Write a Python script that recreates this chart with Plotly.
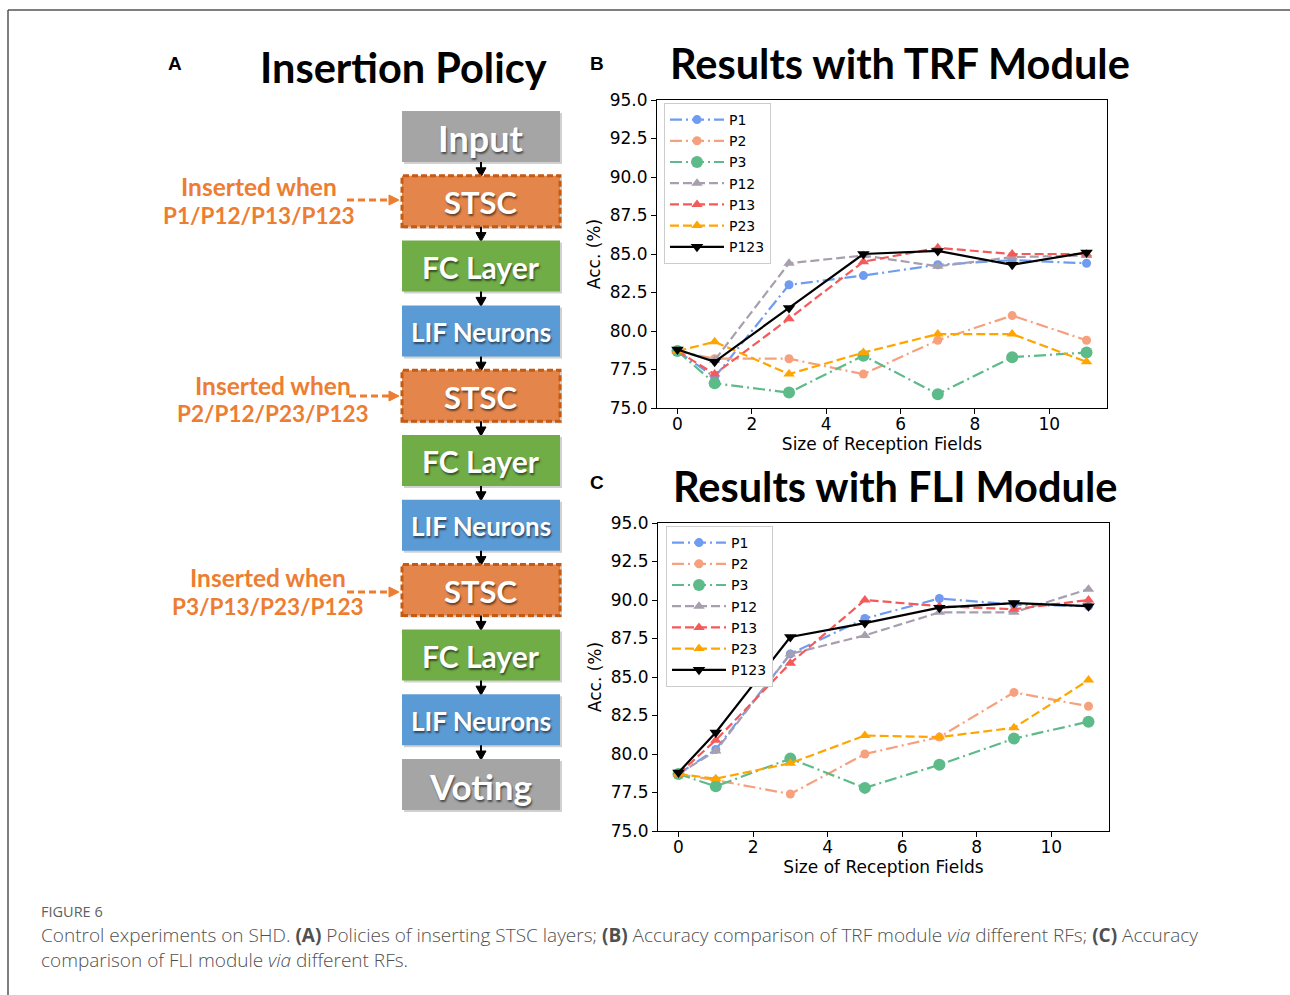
import plotly.graph_objects as go

W, H = 1290, 995

# ---------------- data ----------------
rf_sizes = [0, 1, 3, 5, 7, 9, 11]
series_names = ["P1", "P2", "P3", "P12", "P13", "P23", "P123"]

# Panel B: results with TRF module (Acc. %)
trf_P1 = [78.7, 77.0, 83.0, 83.6, 84.3, 84.6, 84.4]
trf_P2 = [78.7, 78.2, 78.2, 77.2, 79.4, 81.0, 79.4]
trf_P3 = [78.7, 76.6, 76.0, 78.4, 75.9, 78.3, 78.6]
trf_P12 = [78.7, 78.1, 84.4, 84.9, 84.2, 84.8, 84.9]
trf_P13 = [78.7, 77.2, 80.8, 84.5, 85.4, 85.0, 85.0]
trf_P23 = [78.7, 79.3, 77.2, 78.6, 79.8, 79.8, 78.0]
trf_P123 = [78.8, 78.0, 81.5, 85.0, 85.2, 84.3, 85.1]

# Panel C: results with FLI module (Acc. %)
fli_P1 = [78.7, 80.3, 86.5, 88.8, 90.1, 89.7, 89.6]
fli_P2 = [78.7, 78.3, 77.4, 80.0, 81.1, 84.0, 83.1]
fli_P3 = [78.7, 77.9, 79.7, 77.8, 79.3, 81.0, 82.1]
fli_P12 = [78.7, 80.2, 86.5, 87.7, 89.2, 89.2, 90.7]
fli_P13 = [78.7, 80.9, 85.9, 90.0, 89.6, 89.4, 90.0]
fli_P23 = [78.7, 78.4, 79.4, 81.2, 81.1, 81.7, 84.8]
fli_P123 = [78.8, 81.4, 87.6, 88.5, 89.5, 89.8, 89.6]

y_ticks = [75.0, 77.5, 80.0, 82.5, 85.0, 87.5, 90.0, 92.5, 95.0]
x_ticks = [0, 2, 4, 6, 8, 10]

# flowchart content
layer_labels = ["Input", "STSC", "FC Layer", "LIF Neurons", "STSC", "FC Layer",
                "LIF Neurons", "STSC", "FC Layer", "LIF Neurons", "Voting"]
insert_policies = ["P1/P12/P13/P123", "P2/P12/P23/P123", "P3/P13/P23/P123"]

# ---------------- styles ----------------
colors = ["#6f9cf0", "#f7a07e", "#5dbb8a", "#a89fae", "#f55a5a", "#ffa500", "#000000"]
dashes = ["12px,4px,2px,4px"] * 3 + ["9px,4px"] * 3 + ["solid"]
symbols = ["circle", "circle", "circle", "triangle-up", "triangle-up", "triangle-up", "triangle-down"]
msizes = [9, 9, 12, 10, 10, 10, 11]

trf_data = [trf_P1, trf_P2, trf_P3, trf_P12, trf_P13, trf_P23, trf_P123]
fli_data = [fli_P1, fli_P2, fli_P3, fli_P12, fli_P13, fli_P23, fli_P123]


def X(px):
    return px / W


def Y(py):
    return 1 - py / H


fig = go.Figure()

for i, name in enumerate(series_names):
    for data, xa, ya, lg in [(trf_data[i], "x", "y", "legend"), (fli_data[i], "x2", "y2", "legend2")]:
        fig.add_trace(go.Scatter(
            x=rf_sizes, y=data, mode="lines+markers", name=name,
            line=dict(color=colors[i], width=2.2, dash=dashes[i]),
            marker=dict(symbol=symbols[i], size=msizes[i], color=colors[i]),
            xaxis=xa, yaxis=ya, legend=lg, showlegend=True,
        ))

tickfont = dict(family="DejaVu Sans", size=17, color="black")
common = dict(showline=True, mirror=True, linecolor="black", linewidth=1,
              ticks="outside", ticklen=5, tickcolor="black", showgrid=False,
              zeroline=False, tickfont=tickfont, automargin=False)

xcommon = dict(common, range=[-0.55, 11.55], tickvals=x_ticks, ticklabelstandoff=-4,
               title=dict(text="Size of Reception Fields", font=tickfont, standoff=4))
ycommon = dict(common, range=[75, 95], tickvals=y_ticks,
               ticktext=[f"{v:.1f}" for v in y_ticks],
               title=dict(text="Acc. (%)", font=tickfont, standoff=4))

legcommon = dict(bgcolor="white", bordercolor="#cccccc", borderwidth=1,
                 font=dict(family="DejaVu Sans", size=14, color="black"),
                 xanchor="left", yanchor="top", itemwidth=54)

fig.update_layout(
    template="none",
    width=W, height=H, autosize=False,
    margin=dict(l=0, r=0, t=0, b=0, pad=0, autoexpand=False),
    paper_bgcolor="white", plot_bgcolor="white",
    xaxis=dict(xcommon, domain=[X(657), X(1107)], anchor="y"),
    yaxis=dict(ycommon, domain=[Y(408), Y(100)], anchor="x"),
    xaxis2=dict(xcommon, domain=[X(658), X(1109)], anchor="y2"),
    yaxis2=dict(ycommon, domain=[Y(831), Y(523)], anchor="x2"),
    legend=dict(legcommon, x=X(664), y=Y(103)),
    legend2=dict(legcommon, x=X(666), y=Y(526)),
)

shapes = []
annotations = []

# frame lines
shapes.append(dict(type="line", xref="paper", yref="paper", x0=X(8), y0=Y(995), x1=X(8), y1=Y(10),
                   line=dict(color="#555555", width=1.5)))
shapes.append(dict(type="line", xref="paper", yref="paper", x0=X(8), y0=Y(10), x1=X(1290), y1=Y(10),
                   line=dict(color="#555555", width=1.5)))

# flowchart boxes
fills = {"Input": "#a5a5a5", "Voting": "#a5a5a5", "STSC": "#e4864c",
         "FC Layer": "#70ad47", "LIF Neurons": "#5b9bd5"}
fsizes = {"Input": 36, "Voting": 35, "STSC": 31, "FC Layer": 30, "LIF Neurons": 26}
bx0, bx1, bh, top0, pitch = 402, 560, 51, 111, 64.8
cx = (bx0 + bx1) / 2
for i, lab in enumerate(layer_labels):
    t = top0 + i * pitch
    b = t + bh
    # soft shadow
    shapes.append(dict(type="rect", xref="paper", yref="paper", x0=X(bx0 + 2), x1=X(bx1 + 2),
                       y0=Y(b + 2), y1=Y(t + 2), fillcolor="rgba(0,0,0,0.18)", line=dict(width=0)))
    if lab == "STSC":
        shapes.append(dict(type="rect", xref="paper", yref="paper", x0=X(bx0), x1=X(bx1),
                           y0=Y(b), y1=Y(t), fillcolor=fills[lab],
                           line=dict(color="#c55a11", width=3, dash="6px,3px")))
    else:
        shapes.append(dict(type="rect", xref="paper", yref="paper", x0=X(bx0), x1=X(bx1),
                           y0=Y(b), y1=Y(t), fillcolor=fills[lab], line=dict(width=0)))
    annotations.append(dict(xref="paper", yref="paper", x=X(cx), y=Y((t + b) / 2 + 1),
                            text=f"<b>{lab}</b>", showarrow=False, xanchor="center", yanchor="middle",
                            font=dict(family="Lato", size=fsizes[lab], color="white",
                                      shadow="1px 2px 2px rgba(0,0,0,0.55)")))
    # black arrow to next box
    if i < len(layer_labels) - 1:
        nt = top0 + (i + 1) * pitch
        shapes.append(dict(type="line", xref="paper", yref="paper", x0=X(cx), x1=X(cx),
                           y0=Y(b), y1=Y(nt - 6), line=dict(color="black", width=2)))
        shapes.append(dict(type="path", xref="paper", yref="paper",
                           path=f"M{X(cx-5)},{Y(nt-8)} L{X(cx+5)},{Y(nt-8)} L{X(cx)},{Y(nt+1)} Z",
                           fillcolor="black", line=dict(color="black", width=1)))

# orange insertion notes
orange = "#ed7d31"
notes_geo = [(258.5, 186, 216, 200, 347), (272.5, 385, 413, 396, 349), (267.5, 577, 606, 592, 347)]
for pol, (tx, y1, y2, ay, ax0) in zip(insert_policies, notes_geo):
    annotations.append(dict(xref="paper", yref="paper", x=X(tx), y=Y(y1), text="<b>Inserted when</b>",
                            showarrow=False, xanchor="center", yanchor="middle",
                            font=dict(family="Lato", size=24.5, color=orange)))
    annotations.append(dict(xref="paper", yref="paper", x=X(tx), y=Y(y2), text=f"<b>{pol}</b>",
                            showarrow=False, xanchor="center", yanchor="middle",
                            font=dict(family="Lato", size=22.5, color=orange)))
    shapes.append(dict(type="line", xref="paper", yref="paper", x0=X(ax0), x1=X(391),
                       y0=Y(ay), y1=Y(ay), line=dict(color=orange, width=3, dash="7px,4px")))
    shapes.append(dict(type="path", xref="paper", yref="paper",
                       path=f"M{X(389)},{Y(ay-5)} L{X(389)},{Y(ay+5)} L{X(399)},{Y(ay)} Z",
                       fillcolor=orange, line=dict(color=orange, width=1)))

# titles
title_font = dict(family="Lato", size=41.5, color="black")
annotations += [
    dict(xref="paper", yref="paper", x=X(403.5), y=Y(67), text="<b>Insertion Policy</b>",
         showarrow=False, xanchor="center", yanchor="middle", font=title_font),
    dict(xref="paper", yref="paper", x=X(900), y=Y(63), text="<b>Results with TRF Module</b>",
         showarrow=False, xanchor="center", yanchor="middle", font=title_font),
    dict(xref="paper", yref="paper", x=X(895), y=Y(486), text="<b>Results with FLI Module</b>",
         showarrow=False, xanchor="center", yanchor="middle", font=title_font),
]
panel_font = dict(family="Liberation Sans", size=19, color="black")
for lab, px, py in [("A", 175, 63), ("B", 597, 63), ("C", 597, 483)]:
    annotations.append(dict(xref="paper", yref="paper", x=X(px), y=Y(py), text=f"<b>{lab}</b>",
                            showarrow=False, xanchor="center", yanchor="middle", font=panel_font))

# caption
cap_font = dict(family="Open Sans", size=19, color="#505050", weight=300)
annotations += [
    dict(xref="paper", yref="paper", x=X(39), y=Y(911), text="FIGURE 6", showarrow=False,
         xanchor="left", yanchor="middle",
         font=dict(family="Open Sans", size=14.5, color="#606060", weight=500)),
    dict(xref="paper", yref="paper", x=X(39), y=Y(947),
         text="Control experiments on SHD. <b>(A)</b> Policies of inserting STSC layers; <b>(B)</b> "
              "Accuracy comparison of TRF module <i>via</i> different RFs; <b>(C)</b> Accuracy"
              "<br>comparison of FLI module <i>via</i> different RFs.",
         showarrow=False, xanchor="left", yanchor="middle", align="left", font=cap_font),
]

fig.update_layout(shapes=shapes, annotations=annotations)

fig.write_html("out.html")
with open("out.html", "r", encoding="utf-8") as f:
    html = f.read()
html = html.replace("<head>", "<head><style>html,body{margin:0;padding:0;overflow:hidden;}</style>", 1)
with open("out.html", "w", encoding="utf-8") as f:
    f.write(html)
